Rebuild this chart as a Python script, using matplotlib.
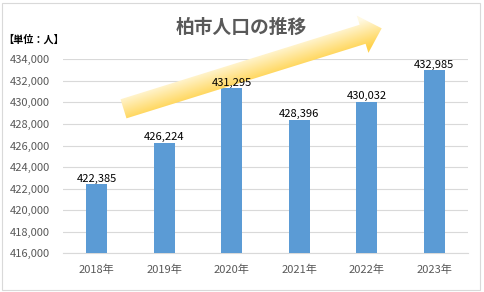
import numpy as np
import matplotlib
matplotlib.use("Agg")
import matplotlib.pyplot as plt
from matplotlib.patches import FancyArrow, Rectangle

plt.rcParams['font.family'] = ['Noto Sans CJK JP', 'DejaVu Sans']

# データ
years = ['2018年', '2019年', '2020年', '2021年', '2022年', '2023年']
population = [422385, 426224, 431295, 428396, 430032, 432985]
y_ticks = list(range(416000, 434001, 2000))

W, H = 485, 292
fig = plt.figure(figsize=(W / 100, H / 100), dpi=100)

# 棒グラフ
ax = fig.add_axes([63 / W, 1 - 253.3 / H, 405 / W, (253.3 - 59.3) / H])
x = np.arange(len(years))
ax.bar(x, population, width=0.31, color='#5B9BD5', zorder=3)
ax.set_xlim(-0.5, len(years) - 0.5)
ax.set_ylim(416000, 434000)
ax.set_yticks(y_ticks)
ax.set_yticklabels([f"{v:,}" for v in y_ticks])
ax.set_xticks(x)
ax.set_xticklabels(years)
ax.tick_params(axis='y', length=0, pad=9.5, labelsize=8, labelcolor='#595959')
ax.tick_params(axis='x', length=0, pad=8, labelsize=8, labelcolor='#595959')
ax.grid(axis='y', color='#D9D9D9', linewidth=0.8, zorder=0)
for s in ['top', 'right', 'left']:
    ax.spines[s].set_visible(False)
ax.spines['bottom'].set_color('#D9D9D9')
ax.spines['bottom'].set_linewidth(0.8)

# タイトルと単位
fig.text(241 / W, 1 - 27.5 / H, '柏市人口の推移', ha='center', va='center',
         fontsize=13.5, fontweight='bold', color='#595959')
fig.text(3 / W, 1 - 40 / H, '【単位：人】', ha='left', va='center',
         fontsize=7.3, fontweight='bold', color='black')

# 上昇矢印（グラデーション）
ov = fig.add_axes([0, 0, 1, 1], zorder=5)
ov.set_xlim(0, W)
ov.set_ylim(H, 0)
ov.axis('off')
ov.patch.set_alpha(0)

tx, ty = 123.5, 108.8
dx, dy = 258.2, -80.5
arrow = FancyArrow(tx, ty, dx, dy, width=20, head_width=39, head_length=20,
                   length_includes_head=True, facecolor='none', edgecolor='none')
ov.add_patch(arrow)

L = np.hypot(dx, dy)
vx, vy = -dy / L, dx / L
xs = np.arange(105, 400) + 0.5
ys = np.arange(5, 130) + 0.5
X, Y = np.meshgrid(xs, ys)
s = (X - tx) * vx + (Y - ty) * vy
t = np.clip((s + 14) / 28, 0, 1)[..., None]
light = np.array([255, 249, 225]) / 255
dark = np.array([255, 210, 75]) / 255
img = light * (1 - t) + dark * t
im = ov.imshow(img, extent=(105, 400, 130, 5), origin='upper',
               interpolation='bilinear', aspect='auto', zorder=1)
im.set_clip_path(arrow)

# データラベル（矢印の上に描く）
for xi, v in zip(x, population):
    ov.annotate(f"{v:,}", xy=(xi, v), xycoords=ax.transData,
                xytext=(0, 0.5), textcoords='offset points',
                ha='center', va='bottom', fontsize=8, color='black', zorder=3)

# 外枠
ov.add_patch(Rectangle((2.5, 2.5), 478, 287, fill=False,
                       edgecolor='#D9D9D9', linewidth=0.8))
ov.set_xlim(0, W)
ov.set_ylim(H, 0)

fig.savefig('out.png', dpi=100)
